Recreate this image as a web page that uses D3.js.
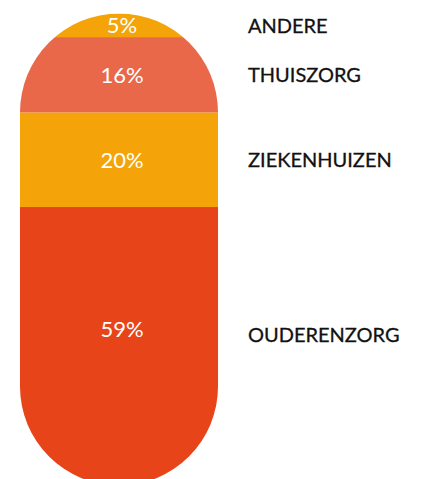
<!DOCTYPE html>
<html>
<head>
<meta charset="utf-8">
<script src="https://cdn.jsdelivr.net/npm/d3@7"></script>
<style>
  html, body { margin: 0; padding: 0; background: #fff; }
  svg { display: block; }
  .pct { font-family: Lato, "Open Sans", sans-serif; font-size: 22px; fill: #fff; }
  .cat { font-family: Lato, "Open Sans", sans-serif; font-size: 20px; fill: #111; stroke: #111; stroke-width: 0.3px; }
</style>
</head>
<body>
<svg id="chart"></svg>
<script>
// Data, top to bottom.
const categories = ["ANDERE", "THUISZORG", "ZIEKENHUIZEN", "OUDERENZORG"];
const shares = [5, 16, 20, 59];
const colors = ["#F4A408", "#E9684A", "#F4A408", "#E84419"];

const width = 422;
const height = 479;

// Pill geometry.
const pill = { left: 20, width: 198, top: 13.5, height: 472 };
// Labels sit in the segment middle, but never drop too far into the bottom cap.
const pctMaxDrop = 122;
const catMaxDrop = 128;
const catX = 248;

const svg = d3.select("#chart")
  .attr("width", width)
  .attr("height", height);

// Stack the shares.
let rows = [];
let acc = 0;
categories.forEach((c, i) => {
  rows.push({ name: c, value: shares[i], color: colors[i], start: acc, end: acc + shares[i] });
  acc += shares[i];
});

const xScale = d3.scaleBand()
  .domain(["total"])
  .range([pill.left, pill.left + pill.width])
  .padding(0);

const yScale = d3.scaleLinear()
  .domain([0, d3.sum(shares)])
  .range([pill.top, pill.top + pill.height]);

// Rounded capsule clip.
const defs = svg.append("defs");
defs.append("clipPath")
  .attr("id", "pill")
  .append("rect")
  .attr("x", xScale("total"))
  .attr("y", yScale(0))
  .attr("width", xScale.bandwidth())
  .attr("height", yScale(d3.sum(shares)) - yScale(0))
  .attr("rx", xScale.bandwidth() / 2)
  .attr("ry", xScale.bandwidth() / 2);

const bars = svg.append("g")
  .attr("id", "bars")
  .attr("clip-path", "url(#pill)");

bars.selectAll("rect")
  .data(rows)
  .enter()
  .append("rect")
  .attr("x", xScale("total"))
  .attr("y", d => yScale(d.start))
  .attr("width", xScale.bandwidth())
  .attr("height", d => yScale(d.end) - yScale(d.start))
  .attr("fill", d => d.color);

function labelY(d, maxDrop) {
  let mid = (yScale(d.start) + yScale(d.end)) / 2;
  return Math.min(mid, yScale(d.start) + maxDrop);
}

// Percentage labels inside the pill.
svg.append("g")
  .attr("id", "pct-labels")
  .selectAll("text")
  .data(rows)
  .enter()
  .append("text")
  .attr("class", "pct")
  .attr("x", xScale("total") + xScale.bandwidth() / 2 + 3)
  .attr("y", d => labelY(d, pctMaxDrop))
  .attr("dy", "0.36em")
  .attr("text-anchor", "middle")
  .text(d => d.value + "%");

// Category names on the right.
svg.append("g")
  .attr("id", "cat-labels")
  .selectAll("text")
  .data(rows)
  .enter()
  .append("text")
  .attr("class", "cat")
  .attr("x", catX)
  .attr("y", d => labelY(d, catMaxDrop))
  .attr("dy", "0.36em")
  .text(d => d.name);
</script>
</body>
</html>
